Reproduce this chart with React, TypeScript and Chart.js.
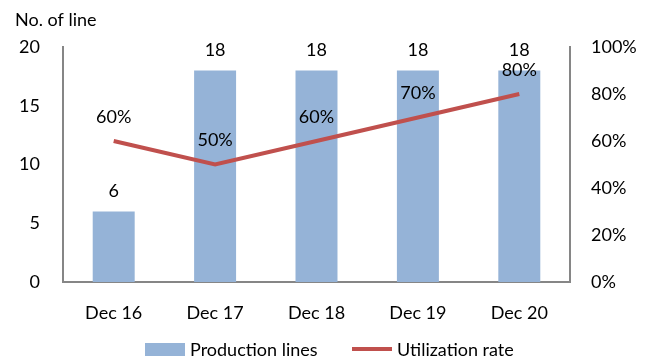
import React, { useEffect, useRef } from "react";
import { Chart, registerables } from "chart.js";

Chart.register(...registerables);

const categories = ["Dec 16", "Dec 17", "Dec 18", "Dec 19", "Dec 20"];
const productionLines = [6, 18, 18, 18, 18];
const utilizationRate = [60, 50, 60, 70, 80];
const leftTicks = [0, 5, 10, 15, 20];
const rightTicks = [0, 20, 40, 60, 80, 100];

const FONT = "Lato, 'Liberation Sans', sans-serif";
const BAR_COLOR = "#95B3D7";
const LINE_COLOR = "#C0504D";
const AXIS_COLOR = "#868686";

const labelPlugin = {
  id: "customLabels",
  afterDraw(chart: any) {
    const ctx = chart.ctx;
    ctx.save();
    ctx.fillStyle = "#000";
    ctx.font = `18px ${FONT}`;
    ctx.textAlign = "center";
    ctx.textBaseline = "middle";
    const barMeta = chart.getDatasetMeta(0);
    barMeta.data.forEach((el: any, i: number) => {
      ctx.fillText(String(productionLines[i]), el.x, el.y - 20);
    });
    const lineMeta = chart.getDatasetMeta(1);
    lineMeta.data.forEach((el: any, i: number) => {
      ctx.fillText(utilizationRate[i] + "%", el.x, el.y - 24);
    });
    ctx.textAlign = "left";
    ctx.fillText("No. of line", 15, 20);
    ctx.fillStyle = BAR_COLOR;
    ctx.fillRect(145, 343, 40, 13);
    ctx.fillStyle = "#000";
    ctx.fillText("Production lines", 190, 350);
    ctx.strokeStyle = LINE_COLOR;
    ctx.lineWidth = 4;
    ctx.beginPath();
    ctx.moveTo(352, 349);
    ctx.lineTo(392, 349);
    ctx.stroke();
    ctx.fillText("Utilization rate", 397, 350);
    ctx.restore();
  },
};

export default function App() {
  const ref = useRef<HTMLCanvasElement>(null);
  useEffect(() => {
    document.body.style.margin = "0";
    const chart = new Chart(ref.current!, {
      type: "bar",
      data: {
        labels: categories,
        datasets: [
          {
            type: "bar",
            label: "Production lines",
            data: productionLines,
            backgroundColor: BAR_COLOR,
            yAxisID: "y",
            barPercentage: 0.414,
            categoryPercentage: 1,
            order: 2,
          },
          {
            type: "line",
            label: "Utilization rate",
            data: utilizationRate,
            borderColor: LINE_COLOR,
            borderWidth: 4,
            pointRadius: 0,
            yAxisID: "y1",
            order: 1,
          },
        ],
      } as any,
      plugins: [labelPlugin],
      options: {
        animation: false,
        responsive: false,
        layout: { padding: { top: 47, bottom: 30, left: 0, right: 0 } },
        plugins: { legend: { display: false }, tooltip: { enabled: false } },
        scales: {
          x: {
            grid: { display: false },
            border: { color: AXIS_COLOR, width: 2 },
            ticks: { color: "#000", font: { family: FONT, size: 18 }, padding: 12, maxRotation: 0 },
            afterFit: (s: any) => { s.height = 46; },
          },
          y: {
            position: "left",
            min: 0,
            max: 20,
            afterBuildTicks: (s: any) => { s.ticks = leftTicks.map((v) => ({ value: v })); },
            grid: { display: false },
            border: { color: AXIS_COLOR, width: 2 },
            ticks: { color: "#000", font: { family: FONT, size: 18 }, padding: 15 },
            afterFit: (s: any) => { s.width = 63; },
          },
          y1: {
            position: "right",
            min: 0,
            max: 100,
            afterBuildTicks: (s: any) => { s.ticks = rightTicks.map((v) => ({ value: v })); },
            grid: { display: false },
            border: { color: AXIS_COLOR, width: 2 },
            ticks: { color: "#000", font: { family: FONT, size: 18 }, padding: 13, callback: (v: any) => v + "%" },
            afterFit: (s: any) => { s.width = 80; },
          },
        },
      } as any,
    });
    return () => chart.destroy();
  }, []);
  return <canvas ref={ref} width={650} height={358} style={{ display: "block" }} />;
}
